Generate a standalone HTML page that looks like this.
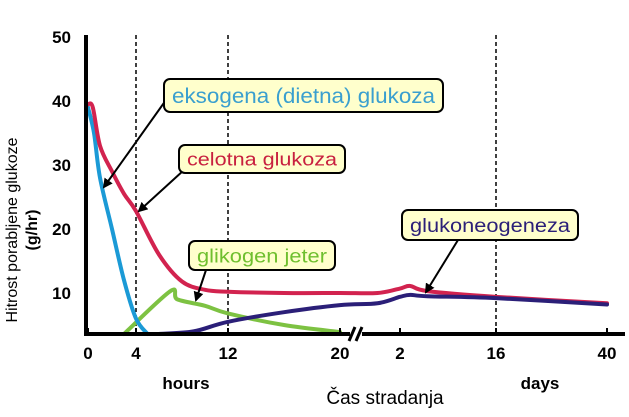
<!DOCTYPE html>
<html><head><meta charset="utf-8"><style>
body{margin:0;background:#fff;font-family:"Liberation Sans",sans-serif}
svg{display:block}
</style></head><body>
<svg width="629" height="417" viewBox="0 0 629 417">
<g id="grid"></g>
<g id="series"></g>
<g id="axes"></g>
<g id="ann"></g>
</svg>
<script>
const NS="http://www.w3.org/2000/svg";
const yTicks=[10,20,30,40,50];
const hourTicks=[0,4,12,20];
const dayTicks=[2,16,40];
const dashedHours=[4,12];
const dashedDays=[16];
const totalH=[[0,39.5],[0.4,39],[1,33],[2,29],[3,25.5],[4,22.8],[6,16],[8,11.8],[10,10.5],[12,10.2],[16,10],[20,10]];
const totalD=[[1,10],[2,10.7],[3.5,11.1],[6,10.3],[16,9.4],[40,8.4]];
const exoH=[[0,39],[0.5,35],[1,28],[2,20],[3,12],[4,6],[5,3.6]];
const glyH=[[3,3.6],[7,10.3],[7.6,9],[10,8],[12,6.8],[16,5],[20,3.9]];
const gngH=[[6,3.6],[9,4],[12,5.5],[16,7],[20,8.1]];
const gngD=[[1,8.4],[2,9.4],[3.5,9.7],[6,9.5],[16,9.2],[40,8.2]];
const hAnch=[[0,88],[4,136],[12,228],[20,340]];
const dAnch=[[0,355],[2,400],[16,496],[40,607]];
function pw(a,v){for(let i=0;i<a.length-1;i++){if(v<=a[i+1][0]||i==a.length-2){const[x0,p0]=a[i],[x1,p1]=a[i+1];return p0+(v-x0)/(x1-x0)*(p1-p0);}}}
const xH=v=>pw(hAnch,v), xD=v=>pw(dAnch,v);
const y=v=>293-(v-10)*6.4;
function el(t,at,p,txt){const e=document.createElementNS(NS,t);for(const k in at)e.setAttribute(k,at[k]);if(txt!=null)e.textContent=txt;p.appendChild(e);return e;}
const G=document.getElementById('grid'),S=document.getElementById('series'),A=document.getElementById('axes'),N=document.getElementById('ann');
[...dashedHours.map(xH),...dashedDays.map(xD)].forEach(x=>{const l=el('line',{x1:x,x2:x,y1:35,y2:334,stroke:'#000','stroke-width':1.5,'stroke-dasharray':'4,3'},G);
});
function smooth(p){let d='M'+p[0][0]+','+p[0][1];for(let i=0;i<p.length-1;i++){const p0=p[i-1]||p[i],p1=p[i],p2=p[i+1],p3=p[i+2]||p2;
const c1=[p1[0]+(p2[0]-p0[0])/6,p1[1]+(p2[1]-p0[1])/6],c2=[p2[0]-(p3[0]-p1[0])/6,p2[1]-(p3[1]-p1[1])/6];
d+=` C${c1[0]},${c1[1]} ${c2[0]},${c2[1]} ${p2[0]},${p2[1]}`;}return d;}
function line(pts,color,w,name){const p=el('path',{d:smooth(pts),fill:'none',stroke:color,'stroke-width':w,'stroke-linejoin':'round','stroke-linecap':'round'},S);
}
const ph=a=>a.map(([h,v])=>[xH(h),y(v)]), pd=a=>a.map(([d,v])=>[xD(d),y(v)]);
line(ph(glyH),'#7dc242',4,'liver-glycogen-line');
line(ph(exoH),'#1b9ad6',4,'exogenous-glucose-line');
line([...ph(totalH),...pd(totalD)],'#d2234f',4,'total-glucose-line');
line([...ph(gngH),...pd(gngD)],'#2b1f78',4,'gluconeogenesis-line');
let a=el('line',{x1:86,x2:86,y1:35,y2:336,stroke:'#000','stroke-width':4},A);
a=el('line',{x1:84,x2:350,y1:334,y2:334,stroke:'#000','stroke-width':4},A);
a=el('line',{x1:362,x2:625,y1:334,y2:334,stroke:'#000','stroke-width':4},A);
el('line',{x1:349,y1:341,x2:355,y2:327,stroke:'#000','stroke-width':3},A);
el('line',{x1:356,y1:341,x2:362,y2:327,stroke:'#000','stroke-width':3},A);
yTicks.forEach(v=>{const t=el('text',{x:71,y:y(v)+6,'text-anchor':'end','font-size':17,'font-weight':'bold'},A,v);});
hourTicks.forEach(v=>{const x=xH(v);el('line',{x1:x,x2:x,y1:328,y2:334,stroke:'#000','stroke-width':2},A);const t=el('text',{x:x,y:359,'text-anchor':'middle','font-size':17,'font-weight':'bold'},A,v);});
dayTicks.forEach(v=>{const x=xD(v);el('line',{x1:x,x2:x,y1:328,y2:334,stroke:'#000','stroke-width':2},A);const t=el('text',{x:x,y:359,'text-anchor':'middle','font-size':17,'font-weight':'bold'},A,v);});
let t=el('text',{x:186,y:389,'text-anchor':'middle','font-size':17,'font-weight':'bold'},A,'hours');
t=el('text',{x:540,y:389,'text-anchor':'middle','font-size':17,'font-weight':'bold'},A,'days');
t=el('text',{x:385,y:404,'text-anchor':'middle','font-size':19},A,'Čas stradanja');
t=el('text',{x:17,y:230,'text-anchor':'middle','font-size':16,transform:'rotate(-90 17 230)'},A,'Hitrost porabljene glukoze');
t=el('text',{x:37,y:230,'text-anchor':'middle','font-size':16,'font-weight':'bold',transform:'rotate(-90 37 230)'},A,'(g/hr)');
el('defs',{},N).innerHTML='<marker id="ah" markerWidth="10" markerHeight="10" refX="8" refY="5" orient="auto" markerUnits="userSpaceOnUse"><path d="M0,0 L10,5 L0,10 z" fill="#000"/></marker>';
function arrow(x1,y1,x2,y2,name){const l=el('line',{x1,y1,x2,y2,stroke:'#000','stroke-width':2,'marker-end':'url(#ah)'},N);}
arrow(166,100,104,187,'exogenous-arrow');
arrow(184,170,139,211,'total-arrow');
arrow(206,270,196,300,'glycogen-arrow');
arrow(458,240,426,292,'gng-arrow');
function box(x,w,yy,h,txt,col,fs,name){const g=el('g',{},N);
el('rect',{x:x,y:yy,width:w,height:h,rx:6,fill:'#ffffcc',stroke:'#000','stroke-width':2},g);
el('text',{x:x+w/2,y:yy+h/2+fs*0.36,'text-anchor':'middle','font-size':fs,fill:col,textLength:w-16,lengthAdjust:'spacingAndGlyphs'},g,txt);}
box(164,279,79,33,'eksogena (dietna) glukoza','#3a9fcf',21,'exogenous-label');
box(179,166,145,28,'celotna glukoza','#c8203f',18,'total-label');
box(189,146,241,29,'glikogen jeter','#6fbf2e',19,'glycogen-label');
box(402,176,210,30,'glukoneogeneza','#2b1f78',19,'gng-label');
</script>
</body></html>
